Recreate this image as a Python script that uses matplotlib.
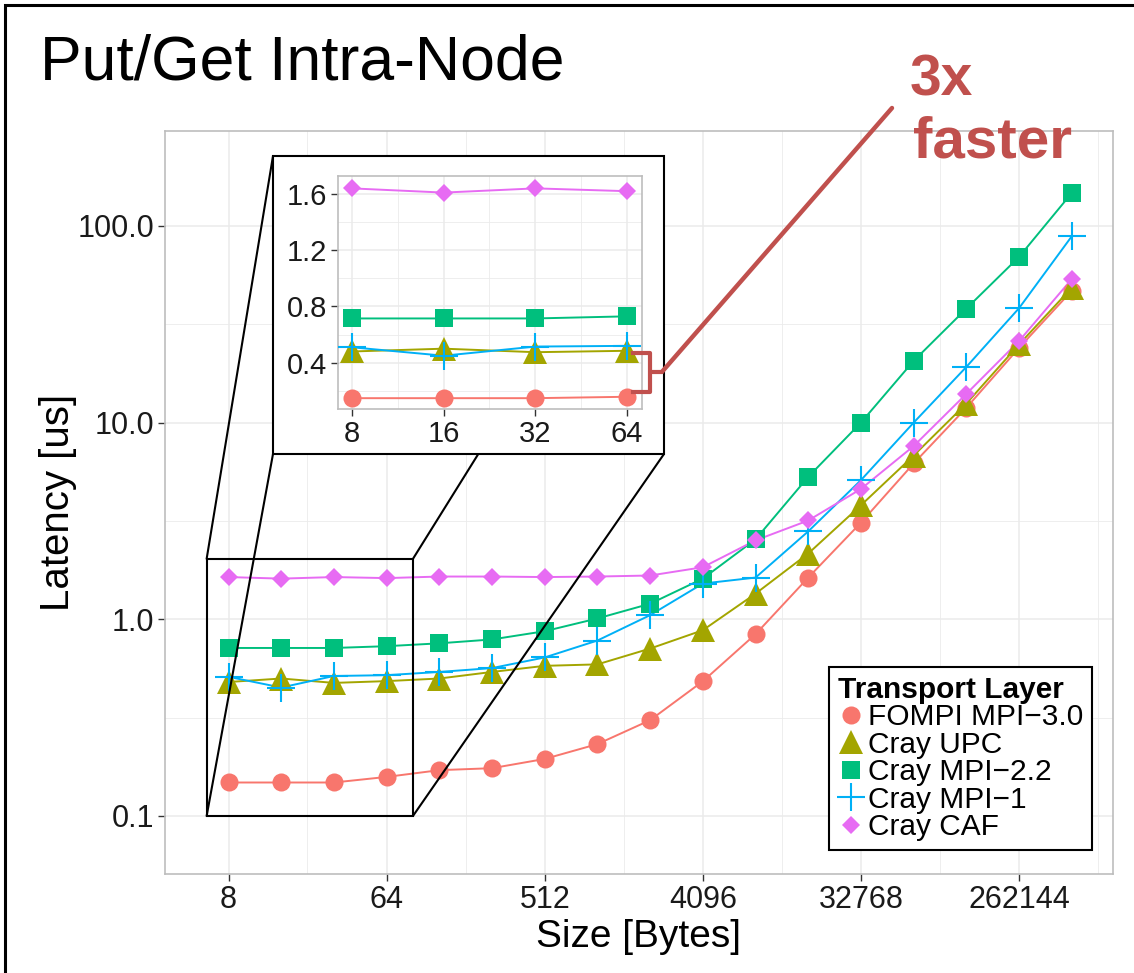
import matplotlib
matplotlib.use("Agg")
import matplotlib.pyplot as plt
import matplotlib.transforms as mtrans
from matplotlib.patches import Rectangle, ConnectionPatch
from matplotlib.lines import Line2D

plt.rcParams['font.family'] = ['Liberation Sans', 'DejaVu Sans']

# message sizes in bytes
sizes = [8, 16, 32, 64, 128, 256, 512, 1024, 2048, 4096, 8192,
         16384, 32768, 65536, 131072, 262144, 524288]

# latency [us]
fompi = [0.148, 0.148, 0.148, 0.158, 0.171, 0.175, 0.195, 0.232, 0.307,
         0.484, 0.84, 1.63, 3.1, 6.2, 11.9, 24.0, 46.8]
upc = [0.48, 0.50, 0.475, 0.485, 0.50, 0.54, 0.58, 0.59, 0.71,
       0.88, 1.35, 2.16, 3.8, 6.8, 12.5, 25.0, 48.5]
mpi22 = [0.715, 0.715, 0.715, 0.73, 0.755, 0.79, 0.87, 1.01, 1.2,
         1.61, 2.55, 5.3, 10.0, 20.6, 38.0, 69.6, 147.0]
mpi1 = [0.51, 0.45, 0.515, 0.52, 0.54, 0.565, 0.64, 0.78, 1.05,
        1.52, 1.63, 2.8, 5.1, 10.0, 19.2, 38.2, 88.6]
caf = [1.64, 1.61, 1.64, 1.62, 1.65, 1.65, 1.64, 1.65, 1.67,
       1.84, 2.52, 3.18, 4.6, 7.6, 14.0, 26.0, 53.7]

names = ["FOMPI MPI\u22123.0", "Cray UPC", "Cray MPI\u22122.2", "Cray MPI\u22121", "Cray CAF"]
series = [fompi, upc, mpi22, mpi1, caf]
colors = ["#F8766D", "#A3A500", "#00BF7D", "#00B0F6", "#E76BF3"]
markers = ["o", "^", "s", "+", "D"]
msizes = [13, 17, 13, 20, 9]

xticks = [8, 64, 512, 4096, 32768, 262144]
xminor = [22.6, 181, 1448, 11585, 92682, 741455]
yticks = [0.1, 1, 10, 100]
ylabels = ["0.1", "1.0", "10.0", "100.0"]
yminor = [0.316, 3.16, 31.6]

in_x = [8, 16, 32, 64]
in_yticks = [0.4, 0.8, 1.2, 1.6]

red = "#C0504D"
W, H = 1134, 973

fig = plt.figure(figsize=(W / 100, H / 100), dpi=100)

# outer frame
fig.add_artist(Rectangle((5 / W, -1), 2, 2 - 5 / H, transform=fig.transFigure,
                         fill=False, ec="black", lw=2.2, zorder=0))

fig.text(40 / W, 1 - 80 / H, "Put/Get Intra-Node", fontsize=45, va="baseline")


def style_axes(a, fs):
    for s in a.spines.values():
        s.set_color("#BDBDBD")
        s.set_linewidth(1.2)
    a.grid(True, which="major", color="#EBEBEB", lw=1.1)
    a.grid(True, which="minor", color="#EBEBEB", lw=0.6)
    a.set_axisbelow(True)
    a.tick_params(which="major", length=5, width=1, color="#333333",
                  labelsize=fs, labelcolor="#1a1a1a", pad=3)
    a.tick_params(which="minor", length=0)


def draw_series(a, xs, n):
    for vals, c in zip(series, colors):
        a.plot(xs, vals[:n], color=c, lw=1.4, zorder=2)
    for vals, c, m, ms in zip(series, colors, markers, msizes):
        a.plot(xs, vals[:n], ls="none", marker=m, ms=ms, color=c,
               mew=1.5 if m == "+" else 0, zorder=3)


# main panel
ax = fig.add_axes([165 / W, 1 - 874 / H, (1113 - 165) / W, (874 - 131) / H])
ax.set_xscale("log", base=2)
ax.set_yscale("log")
ax.set_xlim(3.47, 902000)
ax.set_ylim(0.0507, 304)
ax.set_xticks(xticks)
ax.set_xticklabels([str(v) for v in xticks])
ax.set_xticks(xminor, minor=True)
ax.set_xticklabels([], minor=True)
ax.set_yticks(yticks)
ax.set_yticklabels(ylabels)
ax.set_yticks(yminor, minor=True)
ax.set_yticklabels([], minor=True)
style_axes(ax, 22)
draw_series(ax, sizes, len(sizes))

ax.set_xlabel("Size [Bytes]", fontsize=28)
ax.xaxis.set_label_coords(0.5, -0.06)
ax.set_ylabel("Latency [us]", fontsize=29)
ax.yaxis.set_label_coords(-0.093, 0.5)

handles = [Line2D([], [], ls="none", marker=m, ms=ms, color=c,
                  mew=1.5 if m == "+" else 0)
           for c, m, ms in zip(colors, markers, msizes)]
leg = ax.legend(handles, names, title="Transport Layer", loc="lower right",
                bbox_to_anchor=(1092 / W, 1 - 850 / H), bbox_transform=fig.transFigure,
                borderaxespad=0, fontsize=21.5, handlelength=0.9, handletextpad=0.1,
                labelspacing=-0.02, borderpad=0.3, fancybox=False, framealpha=1,
                edgecolor="black", alignment="left",
                title_fontproperties={"weight": "bold", "size": 21.5})
leg.get_frame().set_linewidth(1.5)

# zoom rectangle and connectors
rx0, rx1, ry0, ry1 = 6.0, 90.5, 0.1, 2.03
ax.add_patch(Rectangle((rx0, ry0), rx1 - rx0, ry1 - ry0, fill=False,
                       ec="black", lw=1.5, zorder=4))
bx0, bx1, by0, by1 = 273 / W, 664 / W, 1 - 454 / H, 1 - 156 / H
for pa, pb in [((rx0, ry0), (bx0, by0)), ((rx0, ry1), (bx0, by1)),
               ((rx1, ry0), (bx1, by0)), ((rx1, ry1), (bx1, by1))]:
    con = ConnectionPatch(xyA=pa, coordsA="data", axesA=ax, xyB=pb,
                          coordsB="figure fraction", color="black", lw=1.5, zorder=1)
    fig.add_artist(con)
fig.add_artist(Rectangle((bx0, by0), bx1 - bx0, by1 - by0, transform=fig.transFigure,
                         fc="white", ec="black", lw=1.5, zorder=2))

# inset
axi = fig.add_axes([338 / W, 1 - 409 / H, 304 / W, 233 / H], zorder=3)
axi.set_xscale("log", base=2)
axi.set_xlim(7.2, 71.6)
axi.set_ylim(0.071, 1.728)
axi.set_xticks(in_x)
axi.set_xticklabels([str(v) for v in in_x])
axi.set_xticks([11.3, 22.6, 45.3], minor=True)
axi.set_xticklabels([], minor=True)
axi.set_yticks(in_yticks)
axi.set_yticklabels([str(v) for v in in_yticks])
axi.set_yticks([0.2, 0.6, 1.0, 1.4], minor=True)
axi.set_yticklabels([], minor=True)
style_axes(axi, 21)
draw_series(axi, in_x, 4)

# 3x faster bracket + pointer
blend = mtrans.blended_transform_factory(axi.transAxes, axi.transData)
axi.add_line(Line2D([0.970, 1.026, 1.026, 0.970], [0.471, 0.471, 0.194, 0.194],
                    transform=blend, color=red, lw=3, clip_on=False,
                    solid_joinstyle="round", zorder=5))
axi.add_line(Line2D([1.026, 1.066], [0.336, 0.336], transform=blend, color=red,
                    lw=3, clip_on=False, solid_capstyle="round", zorder=5))
fig.add_artist(ConnectionPatch(xyA=(1.066, 0.336), coordsA=blend,
                               xyB=(892 / W, 1 - 108 / H), coordsB="figure fraction",
                               color=red, lw=3.2, zorder=5, capstyle="round"))
fig.text(910 / W, 1 - 95 / H, "3x", fontsize=41, fontweight="bold", color=red, va="baseline")
fig.text(913 / W, 1 - 157 / H, "faster", fontsize=42, fontweight="bold", color=red, va="baseline")

fig.savefig("out.png", dpi=100)
